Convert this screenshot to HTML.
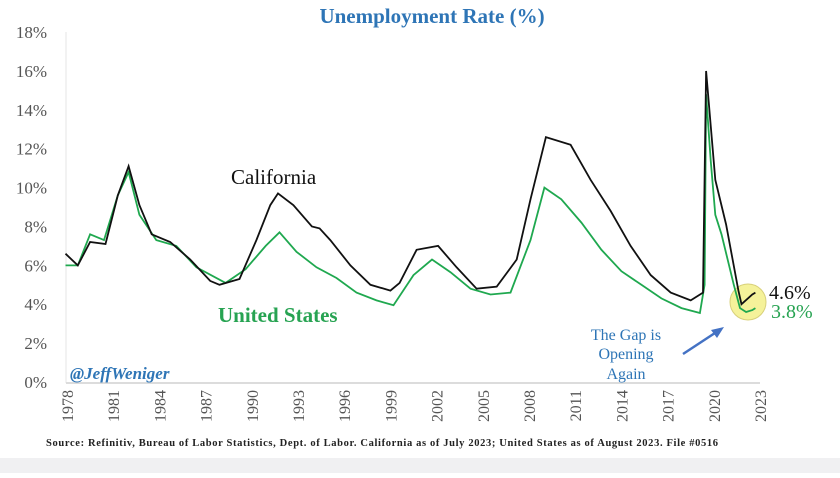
<!DOCTYPE html>
<html><head><meta charset="utf-8"><style>
body{margin:0;background:#fff;width:840px;height:473px;overflow:hidden;font-family:"Liberation Serif",serif}
</style></head><body>
<svg id="chart" width="840" height="473" xmlns="http://www.w3.org/2000/svg">
<rect x="0" y="458" width="840" height="15" fill="#f0f0f2"/>
<text x="432" y="23" text-anchor="middle" font-size="21" font-weight="bold" fill="#2e75b6">Unemployment Rate (%)</text>
<line x1="66" y1="32" x2="66" y2="383" stroke="#e6e6e6"/>
<line x1="66" y1="383" x2="760" y2="383" stroke="#dcdcdc" stroke-width="2"/>
<g id="yticks"></g><g id="xticks"></g>
<circle cx="748" cy="302" r="18" fill="#f5f29a" stroke="#d8d07a"/>
<path id="us" fill="none" stroke="#1fa84f" stroke-width="1.8"/>
<path id="ca" fill="none" stroke="#111" stroke-width="1.8"/>
<text x="231" y="184" font-size="21" fill="#111">California</text>
<text x="218" y="322" font-size="21" font-weight="bold" fill="#27a352">United States</text>
<text x="769" y="299" font-size="20" fill="#111">4.6%</text>
<text x="771" y="318" font-size="20" fill="#27a352">3.8%</text>
<text x="70" y="379" font-size="17" font-weight="bold" font-style="italic" fill="#2e75b6">@JeffWeniger</text>
<g font-size="16" fill="#2e75b6" text-anchor="middle">
<text x="626" y="340">The Gap is</text><text x="626" y="359">Opening</text><text x="626" y="379">Again</text></g>
<line x1="683" y1="354" x2="718" y2="331" stroke="#4472c4" stroke-width="2.5"/>
<polygon points="724,327 711,330 717,338" fill="#4472c4"/>
<text x="46" y="446" font-size="10.5" font-weight="bold" fill="#222" textLength="672">Source: Refinitiv, Bureau of Labor Statistics, Dept. of Labor. California as of July 2023; United States as of August 2023. File #0516</text>
</svg>
<script>
const yTicks=[0,2,4,6,8,10,12,14,16,18];
const xTicks=[1978,1981,1984,1987,1990,1993,1996,1999,2002,2005,2008,2011,2014,2017,2020,2023];
const caYears=[1977.9,1978.7,1979.5,1980.5,1981.3,1982.0,1982.7,1983.5,1984.7,1986.0,1987.3,1987.9,1989.2,1990.3,1991.2,1991.7,1992.7,1993.9,1994.4,1995.1,1996.4,1997.7,1999.0,1999.6,2000.7,2002.1,2003.3,2004.6,2005.9,2007.2,2008.1,2009.1,2010.7,2012.0,2013.3,2014.6,2015.9,2017.2,2018.5,2019.3,2019.5,2020.1,2020.8,2021.6,2021.8,2022.5,2022.7];
const caValues=[6.6,6.0,7.2,7.1,9.6,11.1,9.1,7.6,7.2,6.3,5.2,5.0,5.3,7.3,9.1,9.7,9.1,8.0,7.9,7.3,6.0,5.0,4.7,5.1,6.8,7.0,5.9,4.8,4.9,6.3,9.4,12.6,12.2,10.4,8.8,7.0,5.5,4.6,4.2,4.6,16.0,10.4,8.1,4.7,4.0,4.5,4.6];
const usYears=[1977.9,1978.7,1979.5,1980.4,1981.3,1982.0,1982.7,1983.8,1985.1,1986.4,1988.3,1989.6,1990.9,1991.8,1992.9,1994.2,1995.5,1996.8,1998.1,1999.2,2000.5,2001.7,2002.9,2004.2,2005.5,2006.8,2008.1,2009.0,2010.1,2011.4,2012.7,2014.0,2015.3,2016.6,2017.9,2019.1,2019.4,2019.5,2019.8,2020.1,2020.5,2021.3,2021.7,2022.1,2022.5,2022.7];
const usValues=[6.0,6.0,7.6,7.3,9.6,10.8,8.6,7.3,7.0,5.9,5.1,5.8,7.0,7.7,6.7,5.9,5.35,4.6,4.2,3.95,5.5,6.3,5.65,4.8,4.5,4.6,7.3,10.0,9.4,8.2,6.8,5.7,5.0,4.3,3.8,3.55,5.0,14.8,11.4,8.6,7.6,5.0,3.8,3.6,3.7,3.8];
function xs(yr){return 67+(yr-1978)*15.4;}
function ys(v){return 382-v*19.44;}
const NS='http://www.w3.org/2000/svg';
const yg=document.getElementById('yticks'),xg=document.getElementById('xticks');
yTicks.forEach(v=>{const t=document.createElementNS(NS,'text');


t.setAttribute('x',47);t.setAttribute('y',ys(v)+6);t.setAttribute('text-anchor','end');t.setAttribute('font-size','17');t.setAttribute('fill','#555');t.textContent=v+'%';yg.appendChild(t);});
xTicks.forEach(yr=>{const t=document.createElementNS(NS,'text');


const x=xs(yr)+6,y=390;t.setAttribute('transform','translate('+x+','+y+') rotate(-90)');t.setAttribute('text-anchor','end');t.setAttribute('font-size','16');t.setAttribute('fill','#555');t.textContent=yr;xg.appendChild(t);});
function path(yrs,vals){return yrs.map((y,i)=>(i?'L':'M')+xs(y).toFixed(1)+','+ys(vals[i]).toFixed(1)).join(' ');}
document.getElementById('ca').setAttribute('d',path(caYears,caValues));
document.getElementById('us').setAttribute('d',path(usYears,usValues));
</script>
</body></html>
